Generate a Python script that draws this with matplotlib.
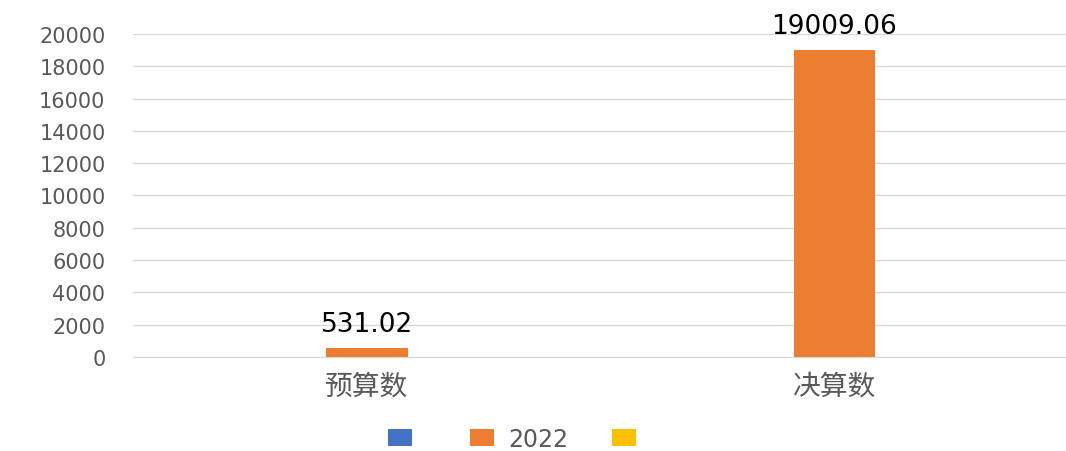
import matplotlib
matplotlib.use('Agg')
import matplotlib.pyplot as plt
import numpy as np
from matplotlib.patches import Rectangle

plt.rcParams['font.family'] = ['DejaVu Sans', 'Noto Sans CJK SC']

categories = ['预算数', '决算数']
series_names = ['', '2022', '']
values_2022 = [531.02, 19009.06]
colors = ['#4472c4', '#ed7d31', '#ffc000']
text_color = '#595959'

fig = plt.figure(figsize=(10.66, 4.52), dpi=100)
ax = fig.add_axes([0.125, 0.208, 0.877, 0.7146])

x = np.arange(len(categories))
w = 0.174
ax.bar(x, values_2022, width=w, color=colors[1], zorder=3)
for xi, v in zip(x, values_2022):
    ax.annotate(f'{v:.2f}', (xi, v), xytext=(0, 8), textcoords='offset points',
                ha='center', va='bottom', fontsize=19, color='black')

ax.set_xlim(-0.5, 1.5)
ax.set_ylim(0, 20000)
ax.set_yticks(np.arange(0, 20001, 2000))
ax.yaxis.grid(True, color='#d9d9d9', linewidth=1, zorder=0)
ax.tick_params(axis='y', length=0, labelsize=15, labelcolor=text_color, pad=20)
ax.tick_params(axis='x', length=0, labelsize=20, labelcolor=text_color, pad=10)
ax.set_xticks(x)
ax.set_xticklabels(categories, family=['Noto Sans CJK SC', 'DejaVu Sans'])
for s in ['top', 'right', 'left']:
    ax.spines[s].set_visible(False)
ax.spines['bottom'].set_color('#d9d9d9')

handles = [Rectangle((0, 0), 1, 1, facecolor=c) for c in colors]
fig.legend(handles, series_names, loc='center', bbox_to_anchor=(0.487, 0.027),
           ncol=3, frameon=False, fontsize=17, labelcolor=text_color,
           handlelength=1.02, handleheight=0.68, columnspacing=1.85, handletextpad=0.6)

fig.savefig('out.png', dpi=100, facecolor='white')
